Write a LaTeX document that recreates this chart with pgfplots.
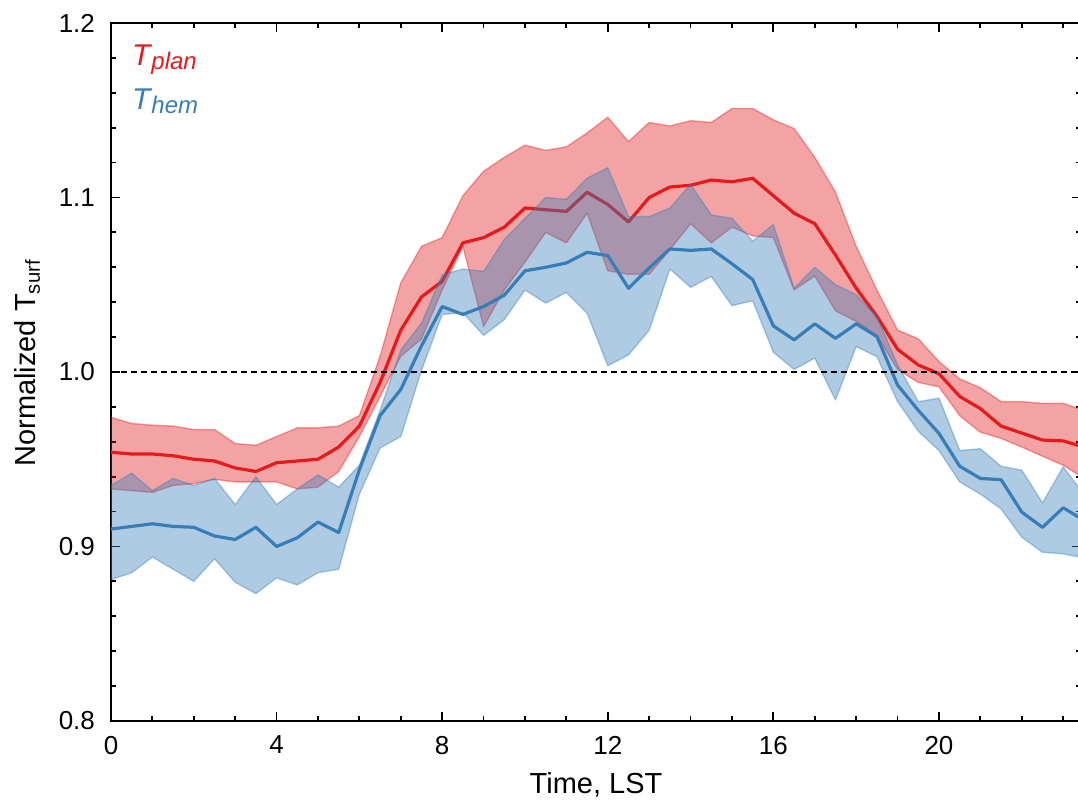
\documentclass[border=0pt]{standalone}
\usepackage{fontspec}
\setmainfont{Liberation Sans}
\usepackage{pgfplots}
\usepackage{pgfplotstable}
\pgfplotsset{compat=1.18}

\definecolor{plred}{HTML}{E41A1C}
\definecolor{plblue}{HTML}{377EB8}

% Planetary-mean normalized surface temperature
\pgfplotstableread{
t     mean
0     0.954
0.5   0.953
1     0.953
1.5   0.952
2     0.950
2.5   0.949
3     0.945
3.5   0.943
4     0.948
4.5   0.949
5     0.950
5.5   0.957
6     0.969
6.5   0.994
7     1.024
7.5   1.043
8     1.052
8.5   1.074
9     1.077
9.5   1.083
10    1.094
10.5  1.093
11    1.092
11.5  1.103
12    1.096
12.5  1.086
13    1.100
13.5  1.106
14    1.107
14.5  1.110
15    1.109
15.5  1.111
16    1.101
16.5  1.091
17    1.085
17.5  1.067
18    1.048
18.5  1.032
19    1.013
19.5  1.004
20    0.999
20.5  0.986
21    0.979
21.5  0.969
22    0.965
22.5  0.961
23    0.9605
23.5  0.957
}\planmean

% Planetary spread: upper bound forward in time, lower bound backward
\pgfplotstableread{
t     v
0     0.974
0.5   0.9705
1     0.9695
1.5   0.969
2     0.967
2.5   0.967
3     0.959
3.5   0.958
4     0.963
4.5   0.968
5     0.968
5.5   0.969
6     0.975
6.5   1.009
7     1.051
7.5   1.072
8     1.077
8.5   1.101
9     1.115
9.5   1.123
10    1.130
10.5  1.127
11    1.129
11.5  1.137
12    1.146
12.5  1.132
13    1.143
13.5  1.141
14    1.144
14.5  1.143
15    1.151
15.5  1.151
16    1.1445
16.5  1.1395
17    1.123
17.5  1.103
18    1.072
18.5  1.047
19    1.024
19.5  1.019
20    1.006
20.5  0.996
21    0.991
21.5  0.983
22    0.983
22.5  0.982
23    0.982
23.5  0.978
23.5  0.939
23    0.9466
22.5  0.9517
22    0.957
21.5  0.962
21    0.9655
20.5  0.975
20    0.9915
19.5  0.994
19    1.0015
18.5  1.021
18    1.029
17.5  1.035
17    1.055
16.5  1.047
16    1.077
15.5  1.078
15    1.083
14.5  1.074
14    1.085
13.5  1.070
13    1.056
12.5  1.056
12    1.058
11.5  1.091
11    1.074
10.5  1.080
10    1.063
9.5   1.047
9     1.026
8.5   1.072
8     1.047
7.5   1.019
7     1.009
6.5   0.986
6     0.963
5.5   0.943
5     0.934
4.5   0.933
4     0.937
3.5   0.937
3     0.937
2.5   0.9385
2     0.936
1.5   0.935
1     0.931
0.5   0.932
0     0.933
}\planband

% Hemispheric-mean normalized surface temperature
\pgfplotstableread{
t     mean
0     0.910
0.5   0.9115
1     0.913
1.5   0.9115
2     0.911
2.5   0.906
3     0.904
3.5   0.911
4     0.900
4.5   0.905
5     0.914
5.5   0.908
6     0.944
6.5   0.975
7     0.990
7.5   1.015
8     1.0375
8.5   1.033
9     1.0375
9.5   1.044
10    1.058
10.5  1.060
11    1.0625
11.5  1.0686
12    1.0667
12.5  1.048
13    1.0596
13.5  1.0705
14    1.0697
14.5  1.0705
15    1.062
15.5  1.053
16    1.0264
16.5  1.0184
17    1.0276
17.5  1.0193
18    1.0276
18.5  1.0203
19    0.9925
19.5  0.978
20    0.9648
20.5  0.946
21    0.939
21.5  0.9383
22    0.9197
22.5  0.911
23    0.9222
23.5  0.915
}\hemmean

% Hemispheric spread: upper bound forward in time, lower bound backward
\pgfplotstableread{
t     v
0     0.935
0.5   0.942
1     0.932
1.5   0.939
2     0.935
2.5   0.939
3     0.924
3.5   0.940
4     0.924
4.5   0.933
5     0.941
5.5   0.934
6     0.9466
6.5   0.978
7     1.0126
7.5   1.028
8     1.0557
8.5   1.059
9     1.0576
9.5   1.076
10    1.088
10.5  1.100
11    1.099
11.5  1.111
12    1.117
12.5  1.089
13    1.089
13.5  1.094
14    1.1075
14.5  1.090
15    1.088
15.5  1.075
16    1.0845
16.5  1.048
17    1.060
17.5  1.050
18    1.0443
18.5  1.0318
19    1.004
19.5  0.983
20    0.985
20.5  0.955
21    0.956
21.5  0.946
22    0.9437
22.5  0.925
23    0.9456
23.5  0.930
23.5  0.8935
23    0.8958
22.5  0.8967
22    0.9053
21.5  0.9216
21    0.930
20.5  0.937
20    0.955
19.5  0.966
19    0.983
18.5  1.0088
18    1.0146
17.5  0.984
17    1.008
16.5  1.0015
16    1.0113
15.5  1.0408
15    1.038
14.5  1.0548
14    1.0485
13.5  1.059
13    1.024
12.5  1.0098
12    1.0036
11.5  1.0337
11    1.0456
10.5  1.0395
10    1.047
9.5   1.030
9     1.021
8.5   1.034
8     1.033
7.5   1.001
7     0.963
6.5   0.9565
6     0.930
5.5   0.887
5     0.885
4.5   0.878
4     0.882
3.5   0.873
3     0.8795
2.5   0.893
2     0.880
1.5   0.887
1     0.894
0.5   0.885
0     0.881
}\hemband

\begin{document}
\begin{tikzpicture}
\useasboundingbox (-55.5pt,-40.5pt) rectangle (483.5pt,360.5pt);
\begin{axis}[
  at={(0pt,0pt)}, anchor=south west,
  scale only axis,
  width=485pt, height=349pt,
  xmin=0, xmax=23.43,
  ymin=0.8, ymax=1.2,
  clip=true,
  axis line style={line width=1pt, black},
  tick align=inside,
  xtick={0,4,8,12,16,20},
  minor xtick={1,2,3,5,6,7,9,10,11,13,14,15,17,18,19,21,22,23},
  ytick={0.8,0.9,1.0,1.1,1.2},
  minor ytick={0.82,0.84,0.86,0.88,0.92,0.94,0.96,0.98,1.02,1.04,1.06,1.08,1.12,1.14,1.16,1.18},
  major tick length=4.5pt,
  minor tick length=2.5pt,
  every tick/.style={black, line width=0.9pt},
  xtick pos=both, ytick pos=both,
  /pgf/number format/assume math mode=true,
  xticklabel style={font=\fontsize{13}{15}\selectfont, yshift=-4pt},
  yticklabel style={font=\fontsize{13}{15}\selectfont, xshift=-4.5pt,
    /pgf/number format/.cd, fixed, fixed zerofill, precision=1},
  xlabel={Time, LST},
  xlabel style={font=\fontsize{14.5}{17}\selectfont,
    at={(axis description cs:0.5,-0.1032)}, anchor=base},
  ylabel={Normalized T\textsubscript{surf}},
  ylabel style={font=\fontsize{14.5}{17}\selectfont,
    at={(axis description cs:-0.0866,0.513)}, anchor=center},
]

% planetary band and mean
\addplot[draw=plred, draw opacity=0.4, fill=plred, fill opacity=0.4,
  line width=0.7pt, line join=round] table[x=t, y=v]{\planband};
\addplot[plred, line width=1.6pt, line join=round] table[x=t, y=mean]{\planmean};

% hemispheric band and mean
\addplot[draw=plblue, draw opacity=0.4, fill=plblue, fill opacity=0.4,
  line width=0.7pt, line join=round] table[x=t, y=v]{\hemband};
\addplot[plblue, line width=1.6pt, line join=round] table[x=t, y=mean]{\hemmean};

% reference level
\addplot[black, line width=0.8pt, dash pattern=on 3pt off 2pt]
  coordinates {(0,1.0) (24,1.0)};

\node[anchor=base west, text=plred, font=\fontsize{15}{18}\selectfont\itshape, inner sep=0pt]
  at (axis cs:0.5,1.1755) {T\kern0.5pt{\fontsize{12}{14}\selectfont\raisebox{-2pt}{plan}}};
\node[anchor=base west, text=plblue, font=\fontsize{15}{18}\selectfont\itshape, inner sep=0pt]
  at (axis cs:0.5,1.1506) {T\kern0.5pt{\fontsize{12}{14}\selectfont\raisebox{-2pt}{hem}}};
\end{axis}
\end{tikzpicture}
\end{document}
